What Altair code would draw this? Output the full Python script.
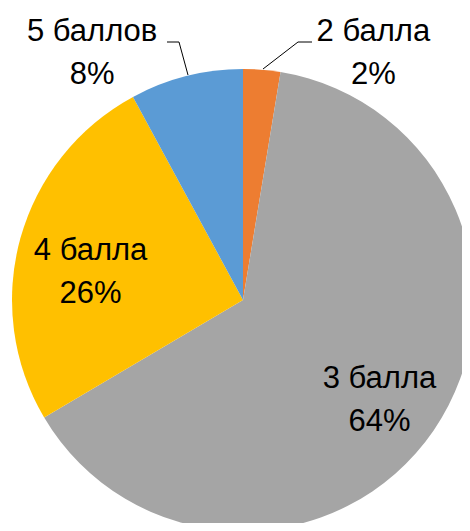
import altair as alt
import pandas as pd

categories = ["2 балла", "3 балла", "4 балла", "5 баллов"]
values = [2.6, 63.9, 25.6, 7.9]
percent_labels = ["2%", "64%", "26%", "8%"]
colors = ["#ED7D31", "#A5A5A5", "#FFC000", "#5B9BD5"]

df = pd.DataFrame({
    "cat": categories,
    "value": values,
    "pct": percent_labels,
    "idx": list(range(len(categories))),
})
df["label"] = df["cat"] + "\n" + df["pct"]

CX, CY, R = 235, 292, 231
FONT = "Liberation Sans"

base = alt.Chart(df)

theta = alt.Theta("value:Q", stack=True)
order = alt.Order("idx:Q")

pie = base.mark_arc(outerRadius=R).encode(
    theta=theta,
    order=order,
    color=alt.Color("cat:N", scale=alt.Scale(domain=categories, range=colors), legend=None),
    x=alt.value(CX),
    y=alt.value(CY),
)

# label placement (radius, dx, dy) per category
placement = {
    "2 балла": (250, 110, -19),
    "3 балла": (169, -3, -16),
    "4 балла": (154, -4, -8),
    "5 баллов": (252, -89, -24),
}

label_layers = []
for cat in categories:
    r, dx, dy = placement[cat]
    label_layers.append(
        base.mark_text(
            radius=r, dx=dx, dy=dy, font=FONT, fontSize=31, lineHeight=43,
            lineBreak="\n", align="center", baseline="middle", color="black",
        ).encode(
            theta=theta,
            order=order,
            x=alt.value(CX),
            y=alt.value(CY),
            text=alt.condition(alt.datum.cat == cat, alt.Text("label:N"), alt.value("")),
        )
    )

one = alt.Chart(alt.Data(values=[{}]))
leaders = [
    one.mark_rule(color="black", strokeWidth=1).encode(
        x=alt.value(159), x2=alt.value(171), y=alt.value(34), y2=alt.value(34)),
    one.mark_rule(color="black", strokeWidth=1).encode(
        x=alt.value(171), x2=alt.value(180), y=alt.value(34), y2=alt.value(67)),
    one.mark_rule(color="black", strokeWidth=1).encode(
        x=alt.value(255), x2=alt.value(290), y=alt.value(61), y2=alt.value(34)),
    one.mark_rule(color="black", strokeWidth=1).encode(
        x=alt.value(290), x2=alt.value(304), y=alt.value(34), y2=alt.value(34)),
]

chart = alt.layer(pie, *label_layers, *leaders).properties(
    width=454, height=515, padding=0, autosize=alt.AutoSizeParams(type="none"),
).configure_view(stroke=None)

chart.save("out.html", embed_options={"renderer": "svg", "actions": False})
